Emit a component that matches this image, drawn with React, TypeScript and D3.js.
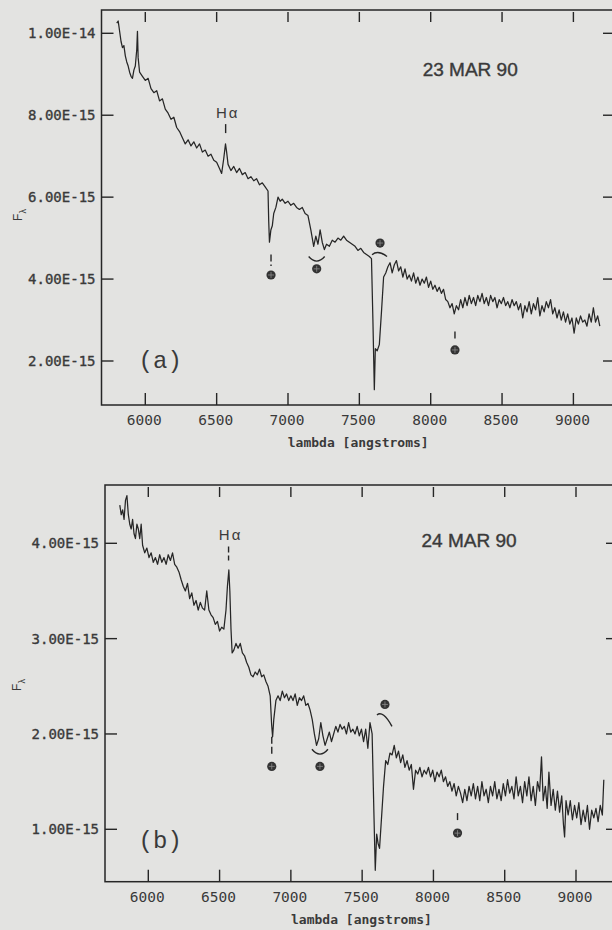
import React from "react";
import * as d3 from "d3";

// Wavelength ticks (angstroms) shared by both panels
const xTicks = [6000, 6500, 7000, 7500, 8000, 8500, 9000];

// Flux ticks, in units of 1e-15
const yTicksA = [2, 4, 6, 8, 10];
const yLabelsA = ["2.00E-15", "4.00E-15", "6.00E-15", "8.00E-15", "1.00E-14"];
const yTicksB = [1, 2, 3, 4];
const yLabelsB = ["1.00E-15", "2.00E-15", "3.00E-15", "4.00E-15"];

// 23 MAR 90 spectrum: [wavelength, F_lambda / 1e-15]
const spectrumA: [number, number][] = [
  [5800, 10.25], [5810, 10.3], [5820, 10.05], [5830, 9.8], [5840, 9.65], [5850, 9.7],
  [5860, 9.45], [5870, 9.3], [5880, 9.2], [5890, 9.05], [5900, 8.95], [5910, 8.9],
  [5920, 9.1], [5930, 9.2], [5940, 9.6], [5945, 10.05], [5950, 9.4], [5960, 9.05],
  [5980, 8.95], [6000, 8.85], [6020, 8.9], [6040, 8.65], [6060, 8.55], [6080, 8.6],
  [6100, 8.35], [6120, 8.4], [6140, 8.15], [6160, 8.05], [6180, 7.9], [6200, 7.95],
  [6220, 7.7], [6240, 7.6], [6260, 7.45], [6280, 7.3], [6300, 7.4], [6320, 7.25],
  [6340, 7.35], [6360, 7.2], [6380, 7.3], [6400, 7.1], [6420, 7.15], [6440, 7.0],
  [6460, 7.05], [6480, 6.9], [6500, 6.85], [6520, 6.7], [6535, 6.58], [6550, 6.95],
  [6562, 7.3], [6570, 7.1], [6580, 6.8], [6600, 6.65], [6620, 6.75], [6640, 6.6],
  [6660, 6.7], [6680, 6.55], [6700, 6.6], [6720, 6.45], [6740, 6.5], [6760, 6.4],
  [6780, 6.45], [6800, 6.3], [6820, 6.35], [6840, 6.25], [6860, 6.15], [6865, 5.4],
  [6870, 4.9], [6880, 5.2], [6890, 5.3], [6900, 5.6], [6915, 5.75], [6930, 6.0],
  [6945, 5.9], [6960, 5.95], [6980, 5.85], [7000, 5.9], [7020, 5.8], [7040, 5.85],
  [7060, 5.75], [7080, 5.7], [7100, 5.75], [7120, 5.6], [7140, 5.55], [7160, 5.2],
  [7170, 5.0], [7180, 4.8], [7195, 5.05], [7210, 4.85], [7225, 5.2], [7240, 4.9],
  [7255, 4.72], [7270, 4.85], [7290, 4.8], [7310, 4.95], [7330, 4.9], [7350, 5.0],
  [7370, 4.95], [7390, 5.05], [7410, 4.95], [7430, 4.9], [7450, 4.85], [7470, 4.8],
  [7490, 4.7], [7510, 4.75], [7530, 4.65], [7550, 4.6], [7570, 4.55], [7585, 4.5],
  [7595, 3.0], [7605, 1.3], [7612, 2.3], [7625, 2.25], [7640, 2.4], [7655, 3.2],
  [7670, 4.05], [7685, 4.15], [7700, 4.3], [7715, 4.4], [7730, 4.15], [7745, 4.35],
  [7760, 4.45], [7775, 4.2], [7790, 4.3], [7805, 4.05], [7820, 4.25], [7835, 4.0],
  [7850, 4.1], [7865, 3.95], [7880, 4.15], [7895, 3.9], [7910, 4.05], [7925, 3.85],
  [7940, 4.0], [7955, 3.9], [7970, 4.05], [7985, 3.8], [8000, 3.95], [8015, 3.75],
  [8030, 3.85], [8045, 3.7], [8060, 3.8], [8075, 3.65], [8090, 3.75], [8105, 3.5],
  [8120, 3.45], [8135, 3.3], [8150, 3.4], [8165, 3.15], [8180, 3.35], [8195, 3.25],
  [8210, 3.5], [8225, 3.3], [8240, 3.55], [8255, 3.35], [8270, 3.6], [8285, 3.4],
  [8300, 3.55], [8315, 3.35], [8330, 3.6], [8345, 3.45], [8360, 3.65], [8375, 3.4],
  [8390, 3.55], [8405, 3.35], [8420, 3.6], [8435, 3.45], [8450, 3.55], [8465, 3.3],
  [8480, 3.5], [8495, 3.4], [8510, 3.55], [8525, 3.35], [8540, 3.45], [8555, 3.3],
  [8570, 3.5], [8585, 3.35], [8600, 3.45], [8615, 3.25], [8630, 3.4], [8645, 3.05],
  [8660, 3.35], [8675, 3.2], [8690, 3.45], [8705, 3.15], [8720, 3.4], [8735, 3.25],
  [8750, 3.55], [8765, 3.1], [8780, 3.35], [8795, 3.2], [8810, 3.45], [8825, 3.3],
  [8840, 3.5], [8855, 3.15], [8870, 3.3], [8885, 3.05], [8900, 3.25], [8915, 3.0],
  [8930, 3.2], [8945, 2.95], [8960, 3.15], [8975, 2.9], [8990, 3.05], [9005, 2.68],
  [9020, 3.05], [9035, 2.9], [9050, 3.1], [9065, 2.95], [9080, 3.0], [9095, 2.85],
  [9110, 3.15], [9125, 2.95], [9140, 3.3], [9155, 2.95], [9170, 3.1], [9185, 2.85],
];

// 24 MAR 90 spectrum: [wavelength, F_lambda / 1e-15]
const spectrumB: [number, number][] = [
  [5800, 4.4], [5810, 4.3], [5820, 4.35], [5830, 4.25], [5840, 4.45], [5850, 4.5],
  [5860, 4.3], [5870, 4.2], [5880, 4.15], [5890, 4.25], [5900, 4.1], [5910, 4.05],
  [5920, 4.2], [5930, 4.15], [5940, 4.05], [5950, 4.2], [5960, 3.98], [5975, 3.9],
  [5990, 3.95], [6005, 3.85], [6020, 3.9], [6035, 3.8], [6050, 3.85], [6065, 3.78],
  [6080, 3.88], [6095, 3.8], [6110, 3.85], [6125, 3.78], [6140, 3.88], [6155, 3.82],
  [6170, 3.9], [6185, 3.78], [6200, 3.75], [6215, 3.7], [6230, 3.62], [6245, 3.55],
  [6260, 3.5], [6275, 3.58], [6290, 3.42], [6305, 3.48], [6320, 3.35], [6335, 3.4],
  [6350, 3.3], [6365, 3.38], [6380, 3.32], [6395, 3.3], [6410, 3.5], [6425, 3.3],
  [6440, 3.25], [6455, 3.22], [6470, 3.15], [6485, 3.18], [6500, 3.08], [6515, 3.12],
  [6530, 3.1], [6545, 3.3], [6555, 3.55], [6565, 3.72], [6572, 3.5], [6580, 3.1],
  [6588, 2.85], [6600, 2.88], [6615, 2.95], [6630, 2.9], [6645, 2.95], [6660, 2.85],
  [6675, 2.82], [6690, 2.75], [6705, 2.7], [6720, 2.62], [6735, 2.6], [6750, 2.65],
  [6765, 2.62], [6780, 2.68], [6795, 2.6], [6810, 2.62], [6825, 2.55], [6840, 2.5],
  [6855, 2.4], [6865, 2.1], [6872, 1.97], [6880, 2.15], [6895, 2.35], [6910, 2.4],
  [6925, 2.35], [6940, 2.45], [6955, 2.38], [6970, 2.42], [6985, 2.35], [7000, 2.4],
  [7015, 2.35], [7030, 2.42], [7045, 2.3], [7060, 2.38], [7075, 2.35], [7090, 2.4],
  [7105, 2.3], [7120, 2.32], [7135, 2.25], [7150, 2.15], [7165, 2.0], [7180, 1.88],
  [7195, 1.95], [7210, 2.12], [7225, 1.98], [7240, 1.88], [7255, 1.95], [7270, 2.02],
  [7285, 1.92], [7300, 2.0], [7315, 2.08], [7330, 2.02], [7345, 2.1], [7360, 2.05],
  [7375, 2.08], [7390, 2.0], [7405, 2.12], [7420, 2.02], [7435, 2.05], [7450, 2.0],
  [7465, 2.08], [7480, 1.98], [7495, 2.05], [7510, 1.92], [7525, 2.05], [7540, 1.85],
  [7555, 2.12], [7570, 2.0], [7582, 1.2], [7592, 0.57], [7602, 0.95], [7612, 0.85],
  [7622, 0.8], [7635, 1.1], [7650, 1.45], [7665, 1.72], [7680, 1.68], [7695, 1.8],
  [7710, 1.78], [7725, 1.88], [7740, 1.75], [7755, 1.82], [7770, 1.7], [7785, 1.78],
  [7800, 1.65], [7815, 1.72], [7830, 1.62], [7845, 1.68], [7860, 1.42], [7875, 1.62],
  [7890, 1.58], [7905, 1.65], [7920, 1.55], [7935, 1.62], [7950, 1.58], [7965, 1.65],
  [7980, 1.55], [7995, 1.62], [8010, 1.5], [8025, 1.6], [8040, 1.55], [8055, 1.62],
  [8070, 1.5], [8085, 1.55], [8100, 1.45], [8115, 1.5], [8130, 1.4], [8145, 1.48],
  [8160, 1.35], [8175, 1.45], [8190, 1.38], [8205, 1.28], [8220, 1.42], [8235, 1.3],
  [8250, 1.45], [8265, 1.35], [8280, 1.48], [8295, 1.32], [8310, 1.45], [8325, 1.3],
  [8340, 1.5], [8355, 1.35], [8370, 1.42], [8385, 1.28], [8400, 1.45], [8415, 1.35],
  [8430, 1.5], [8445, 1.32], [8460, 1.42], [8475, 1.3], [8490, 1.48], [8505, 1.35],
  [8520, 1.52], [8535, 1.38], [8550, 1.45], [8565, 1.32], [8580, 1.55], [8595, 1.35],
  [8610, 1.45], [8625, 1.28], [8640, 1.5], [8655, 1.35], [8670, 1.55], [8685, 1.3],
  [8700, 1.45], [8715, 1.25], [8730, 1.5], [8745, 1.4], [8758, 1.76], [8770, 1.3],
  [8785, 1.45], [8798, 1.22], [8810, 1.6], [8825, 1.25], [8840, 1.42], [8855, 1.2],
  [8870, 1.4], [8885, 1.18], [8900, 1.35], [8912, 1.05], [8920, 0.92], [8930, 1.3],
  [8945, 1.15], [8960, 1.3], [8975, 1.1], [8990, 1.25], [9005, 1.12], [9020, 1.28],
  [9035, 1.05], [9050, 1.2], [9065, 1.08], [9080, 1.25], [9095, 1.0], [9110, 1.2],
  [9125, 1.12], [9140, 1.22], [9155, 1.08], [9170, 1.25], [9185, 1.15], [9195, 1.52],
];

// Telluric band markers, in data units: wavelength, dot flux, and the mark above it
type Mark = { wave: number; dot: number; kind: "dash" | "cup" | "cap"; a: number; b: number };
const telluricA: Mark[] = [
  { wave: 6881, dot: 4.1, kind: "dash", a: 4.6, b: 4.32 },
  { wave: 7201, dot: 4.25, kind: "cup", a: 4.55, b: 4.45 },
  { wave: 7645, dot: 4.88, kind: "cap", a: 4.62, b: 4.55 },
  { wave: 8170, dot: 2.27, kind: "dash", a: 2.72, b: 2.52 },
];
const telluricB: Mark[] = [
  { wave: 6866, dot: 1.66, kind: "dash", a: 1.97, b: 1.76 },
  { wave: 7204, dot: 1.66, kind: "cup", a: 1.84, b: 1.79 },
  { wave: 7660, dot: 2.31, kind: "cap", a: 2.21, b: 2.08 },
  { wave: 8169, dot: 0.96, kind: "dash", a: 1.17, b: 1.08 },
];

const INK = "#262626";
const LABEL = "#3a3a3a";
const MONO = "'DejaVu Sans Mono', monospace";
const SANS = "'Liberation Sans', Arial, sans-serif";

type PanelProps = {
  data: [number, number][];
  frame: { left: number; top: number; right: number; bottom: number };
  xPix: [number, number];
  yDom: [number, number];
  yPix: [number, number];
  yTicks: number[];
  yLabels: string[];
  marks: Mark[];
  haFlux: number;
  haDashed: boolean;
  fLabelPos: [number, number];
};

function Panel(p: PanelProps) {
  const { frame } = p;
  const x = d3.scaleLinear().domain([6000, 9000]).range(p.xPix);
  const y = d3.scaleLinear().domain(p.yDom).range(p.yPix);
  const line = d3
    .line<[number, number]>()
    .x((d) => x(d[0]))
    .y((d) => y(d[1]));
  const tick = 12;
  const haX = x(6563);
  const haY = y(p.haFlux);

  return (
    <g>
      <rect
        x={frame.left}
        y={frame.top}
        width={frame.right - frame.left}
        height={frame.bottom - frame.top}
        fill="none"
        stroke={INK}
        strokeWidth={1.5}
      />
      {xTicks.map((t) => (
        <g key={t}>
          <line x1={x(t)} x2={x(t)} y1={frame.top + 2} y2={frame.top + tick} stroke={INK} strokeWidth={1.4} />
          <line x1={x(t)} x2={x(t)} y1={frame.bottom - tick} y2={frame.bottom} stroke={INK} strokeWidth={1.4} />
          <text
            x={x(t) - 1}
            y={frame.bottom + 20}
            textAnchor="middle"
            fontFamily={MONO}
            fontSize={14.5}
            fill={LABEL}
          >
            {t}
          </text>
        </g>
      ))}
      {p.yTicks.map((t, i) => (
        <g key={t}>
          <line x1={frame.left} x2={frame.left + tick} y1={y(t)} y2={y(t)} stroke={INK} strokeWidth={1.4} />
          <line x1={frame.right - tick} x2={frame.right} y1={y(t)} y2={y(t)} stroke={INK} strokeWidth={1.4} />
          <text
            x={frame.left - 6}
            y={y(t)}
            dy="0.36em"
            textAnchor="end"
            fontFamily={MONO}
            fontSize={14}
            fill={LABEL}
            stroke={LABEL}
            strokeWidth={0.35}
          >
            {p.yLabels[i]}
          </text>
        </g>
      ))}
      <text
        x={(frame.left + frame.right) / 2}
        y={frame.bottom + 42}
        textAnchor="middle"
        fontFamily={MONO}
        fontSize={13}
        fontWeight="bold"
        fill={LABEL}
      >
        lambda [angstroms]
      </text>
      <text
        transform={`translate(${p.fLabelPos[0]},${p.fLabelPos[1]}) rotate(-90)`}
        textAnchor="middle"
        fontFamily={SANS}
        fontSize={12}
        fill={LABEL}
      >
        F<tspan fontSize={9} dy={4}>λ</tspan>
      </text>

      <path d={line(p.data) ?? ""} fill="none" stroke={INK} strokeWidth={1.25} strokeLinejoin="round" />

      {/* H-alpha label */}
      <text x={haX + 2} y={haY} textAnchor="middle" fontFamily={SANS} fontSize={15} fill={LABEL} letterSpacing={2}>
        Hα
      </text>
      <line
        x1={haX}
        x2={haX}
        y1={haY + 6}
        y2={haY + (p.haDashed ? 20 : 15)}
        stroke={INK}
        strokeWidth={1.4}
        strokeDasharray={p.haDashed ? "6 3" : undefined}
      />

      {/* Telluric (earth) symbols */}
      {p.marks.map((m, i) => {
        const mx = x(m.wave);
        const dy = y(m.dot);
        let mark = null;
        if (m.kind === "dash") {
          mark = <line x1={mx} x2={mx} y1={y(m.a)} y2={y(m.b)} stroke={INK} strokeWidth={1.4} strokeDasharray="7 3" />;
        } else if (m.kind === "cup") {
          const ya = y(m.a);
          const yb = y(m.b);
          mark = (
            <path
              d={`M${mx - 8},${ya} Q${mx},${yb + 5} ${mx + 8},${ya}`}
              fill="none"
              stroke={INK}
              strokeWidth={1.4}
            />
          );
        } else {
          const ya = y(m.a);
          const yb = y(m.b);
          mark = (
            <path
              d={`M${mx - 8},${ya + 1} Q${mx - 2},${ya - 4} ${mx + 7},${yb}`}
              fill="none"
              stroke={INK}
              strokeWidth={1.4}
            />
          );
        }
        return (
          <g key={i}>
            {mark}
            <circle cx={mx} cy={dy} r={4.6} fill="#333" />
            <line x1={mx - 3} x2={mx + 3} y1={dy} y2={dy} stroke="#8a8a8a" strokeWidth={0.8} />
            <line x1={mx} x2={mx} y1={dy - 3} y2={dy + 3} stroke="#8a8a8a" strokeWidth={0.8} />
          </g>
        );
      })}
    </g>
  );
}

export default function App() {
  const dateStyle = { fontFamily: SANS, fontSize: 19, fill: LABEL, stroke: LABEL, strokeWidth: 0.4 };
  const tagStyle = { fontFamily: "'Liberation Mono', monospace", fontSize: 24, fill: LABEL };
  return (
    <svg
      width={612}
      height={930}
      viewBox="0 0 612 930"
      style={{ position: "absolute", left: 0, top: 0, display: "block" }}
    >
      <rect x={0} y={0} width={612} height={930} fill="#e3e3e1" />
      <Panel
        data={spectrumA}
        frame={{ left: 101.5, top: 10, right: 615, bottom: 405 }}
        xPix={[145.3, 573.4]}
        yDom={[2, 10]}
        yPix={[361, 33.3]}
        yTicks={yTicksA}
        yLabels={yLabelsA}
        marks={telluricA}
        haFlux={7.93}
        haDashed={false}
        fLabelPos={[22, 215]}
      />
      <Panel
        data={spectrumB}
        frame={{ left: 105, top: 485, right: 618, bottom: 881.7 }}
        xPix={[148.3, 576]}
        yDom={[1, 4]}
        yPix={[829.3, 543.3]}
        yTicks={yTicksB}
        yLabels={yLabelsB}
        marks={telluricB}
        haFlux={4.03}
        haDashed={true}
        fLabelPos={[21, 685]}
      />
      {/* Observation dates and panel tags */}
      <text x={422.7} y={76} {...dateStyle}>23 MAR 90</text>
      <text x={421.5} y={547} {...dateStyle}>24 MAR 90</text>
      <text x={138.6} y={368} {...tagStyle}>(a)</text>
      <text x={138.6} y={848} {...tagStyle}>(b)</text>
    </svg>
  );
}
